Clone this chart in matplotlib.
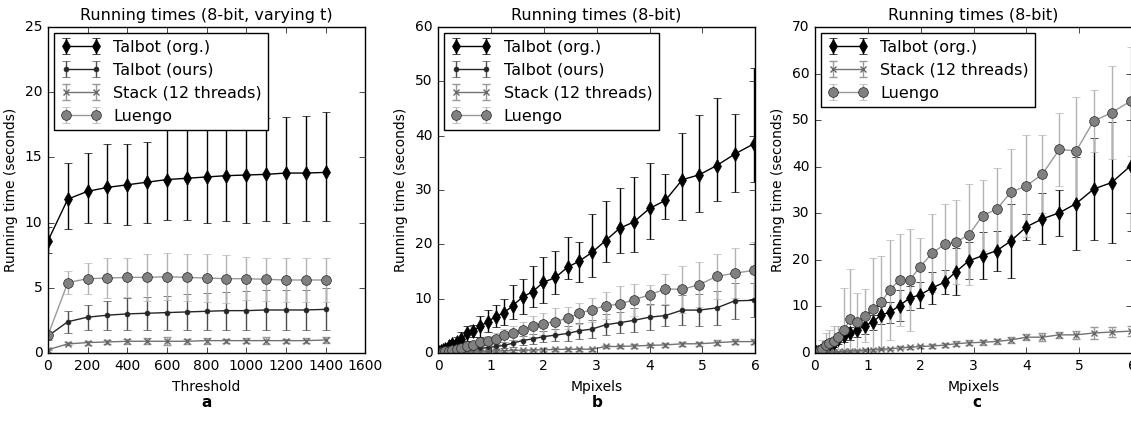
import numpy as np
import matplotlib
matplotlib.use('Agg')
from matplotlib import pyplot as plt

plt.style.use('classic')
plt.rcParams['figure.facecolor'] = 'white'
plt.rcParams['savefig.facecolor'] = 'white'
plt.rcParams['font.family'] = 'DejaVu Sans'
plt.rcParams['font.size'] = 11
plt.rcParams['axes.titlesize'] = 11.5
plt.rcParams['axes.labelsize'] = 10
plt.rcParams['xtick.labelsize'] = 10
plt.rcParams['ytick.labelsize'] = 10
plt.rcParams['legend.fontsize'] = 11.5

# ---- panel a: varying threshold ----
thresh = [0, 100, 200, 300, 400, 500, 600, 700, 800, 900, 1000, 1100, 1200, 1300, 1400]
a_org = [8.6, 11.8, 12.4, 12.7, 12.9, 13.1, 13.3, 13.4, 13.5, 13.6, 13.65, 13.7, 13.8, 13.8, 13.85]
a_org_lo = [7.7, 9.5, 10.0, 10.0, 9.8, 10.0, 10.2, 10.2, 10.0, 10.1, 10.0, 10.1, 10.0, 10.1, 10.1]
a_org_hi = [9.7, 14.6, 15.3, 16.05, 16.0, 16.2, 17.3, 17.5, 17.7, 17.8, 17.9, 18.0, 18.1, 18.2, 18.5]
a_ours = [1.3, 2.4, 2.75, 2.9, 3.0, 3.05, 3.1, 3.15, 3.2, 3.25, 3.25, 3.3, 3.3, 3.3, 3.35]
a_ours_err = [0.3, 0.85, 0.95, 1.1, 1.2, 1.25, 1.3, 1.35, 1.4, 1.45, 1.5, 1.55, 1.5, 1.55, 1.6]
a_stack = [0.25, 0.7, 0.8, 0.85, 0.9, 0.9, 0.9, 0.9, 0.95, 0.95, 0.95, 0.95, 0.95, 0.95, 1.0]
a_stack_err = [0.05, 0.12, 0.15, 0.18, 0.2, 0.22, 0.3, 0.2, 0.22, 0.15, 0.2, 0.25, 0.15, 0.2, 0.2]
a_luengo = [1.35, 5.4, 5.7, 5.75, 5.8, 5.8, 5.85, 5.8, 5.75, 5.7, 5.7, 5.65, 5.6, 5.6, 5.6]
a_luengo_err = [0.3, 0.9, 1.2, 1.5, 1.5, 1.8, 1.8, 1.8, 1.85, 1.85, 1.65, 1.65, 1.7, 1.65, 1.65]

# ---- panels b and c: image size ----
mpix = [0.005, 0.02, 0.05, 0.09, 0.14, 0.20, 0.27, 0.35, 0.44, 0.55, 0.66, 0.80, 0.94, 1.09, 1.25,
        1.41, 1.60, 1.79, 1.99, 2.22, 2.45, 2.67, 2.91, 3.17, 3.44, 3.70, 4.00, 4.30, 4.62, 4.94,
        5.27, 5.61, 5.97]

b_org = [0.05, 0.15, 0.3, 0.5, 0.8, 1.2, 1.6, 2.1, 2.6, 3.6, 4.1, 4.9, 5.8, 6.7, 7.4, 8.7, 10.3,
         11.3, 13.0, 13.9, 15.8, 16.9, 18.5, 20.7, 23.0, 24.1, 26.6, 28.1, 31.9, 32.8, 34.5, 36.6, 38.5]
b_org_lo = [0.0, 0.05, 0.1, 0.2, 0.4, 0.6, 0.9, 1.2, 1.5, 2.3, 2.9, 3.0, 3.9, 4.7, 5.2, 6.2, 7.2,
            8.4, 9.2, 10.9, 13.6, 13.1, 13.9, 16.8, 18.4, 18.5, 21.0, 24.7, 24.4, 25.9, 27.9, 29.7, 31.5]
b_org_hi = [0.1, 0.3, 0.6, 0.9, 1.3, 1.9, 2.4, 3.0, 3.9, 4.9, 5.2, 6.9, 8.0, 8.9, 9.9, 12.6, 13.7,
            16.1, 17.6, 18.7, 21.4, 20.5, 25.6, 28.0, 30.4, 32.4, 35.0, 33.0, 40.5, 43.8, 47.0, 44.0, 52.4]
b_ours = [0.01, 0.02, 0.05, 0.1, 0.15, 0.2, 0.28, 0.35, 0.45, 0.6, 0.7, 0.85, 1.0, 1.2, 1.4, 1.8, 2.3,
          2.6, 3.0, 3.3, 3.6, 4.1, 4.4, 5.2, 5.6, 6.0, 6.6, 6.9, 7.9, 7.9, 8.3, 9.6, 9.7]
b_ours_err = [0.01, 0.02, 0.03, 0.05, 0.07, 0.1, 0.12, 0.15, 0.2, 0.25, 0.3, 0.35, 0.4, 0.5, 0.55, 0.65,
              0.8, 0.9, 1.0, 1.1, 1.3, 1.5, 1.7, 1.9, 2.0, 2.2, 2.4, 2.0, 2.8, 3.0, 3.1, 3.3, 3.1]
b_stack = [0.0, 0.01, 0.02, 0.03, 0.04, 0.06, 0.08, 0.1, 0.13, 0.17, 0.2, 0.25, 0.3, 0.35, 0.4, 0.45,
           0.5, 0.55, 0.6, 0.65, 0.7, 0.7, 0.7, 1.2, 1.2, 1.3, 1.4, 1.5, 1.7, 1.7, 1.9, 2.1, 2.1]
b_stack_err = [0.0, 0.01, 0.01, 0.02, 0.02, 0.03, 0.04, 0.05, 0.06, 0.08, 0.1, 0.1, 0.12, 0.15, 0.15,
               0.2, 0.2, 0.2, 0.25, 0.25, 0.3, 0.3, 0.3, 0.3, 0.3, 0.35, 0.35, 0.4, 0.4, 0.4, 0.5, 0.5, 0.5]
b_luengo = [0.02, 0.05, 0.1, 0.2, 0.3, 0.45, 0.6, 0.8, 1.0, 1.35, 1.5, 2.0, 2.3, 2.6, 3.3, 3.7, 4.2,
            4.9, 5.4, 5.8, 6.4, 7.3, 8.0, 8.7, 9.0, 9.8, 10.7, 11.8, 11.7, 12.6, 14.1, 14.7, 15.2]
b_luengo_err = [0.01, 0.02, 0.05, 0.08, 0.1, 0.15, 0.2, 0.3, 0.4, 0.5, 0.6, 0.7, 0.8, 1.0, 1.2, 1.3,
                1.6, 1.9, 2.0, 2.4, 2.0, 1.9, 2.2, 2.5, 3.4, 2.9, 1.9, 2.8, 4.4, 4.1, 4.2, 4.6, 5.2]

c_org = [0.05, 0.15, 0.25, 0.4, 0.7, 1.1, 1.6, 2.1, 3.0, 3.6, 4.2, 4.9, 5.9, 6.6, 8.2, 8.7, 10.2,
         11.8, 12.5, 14.0, 15.2, 17.5, 19.8, 20.9, 22.0, 24.0, 27.1, 28.8, 30.1, 32.1, 35.2, 36.6, 40.2]
c_org_err = [0.05, 0.1, 0.15, 0.2, 0.3, 0.5, 0.7, 0.9, 1.0, 1.2, 1.4, 1.5, 1.8, 1.6, 2.0, 2.2, 3.3,
             2.5, 2.8, 3.5, 2.6, 5.0, 4.0, 5.0, 4.3, 8.0, 2.8, 5.5, 5.0, 10.0, 11.0, 13.0, 14.0]
c_stack = [0.01, 0.02, 0.04, 0.07, 0.1, 0.15, 0.2, 0.25, 0.3, 0.35, 0.4, 0.5, 0.6, 0.7, 0.8, 0.9, 1.1,
           1.2, 1.4, 1.5, 1.7, 2.0, 2.2, 2.3, 2.5, 2.8, 3.4, 3.4, 3.9, 3.9, 4.3, 4.5, 4.7]
c_stack_err = [0.01, 0.01, 0.02, 0.03, 0.05, 0.06, 0.08, 0.1, 0.1, 0.12, 0.15, 0.15, 0.2, 0.2, 0.2,
               0.25, 0.3, 0.3, 0.3, 0.35, 0.4, 0.5, 0.5, 0.6, 0.5, 0.6, 0.6, 0.8, 0.6, 0.9, 1.2, 1.0, 1.0]
c_luengo = [0.1, 0.25, 0.4, 0.6, 0.9, 1.8, 2.1, 2.6, 3.4, 4.9, 7.2, 6.6, 8.0, 9.5, 10.9, 13.5, 15.7,
            15.7, 18.5, 21.5, 23.3, 23.8, 25.4, 29.5, 30.9, 34.5, 35.9, 38.4, 43.7, 43.4, 49.8, 51.6, 54.1]
c_luengo_err = [0.3, 0.5, 0.8, 1.2, 2.0, 2.5, 2.9, 3.1, 2.5, 9.1, 10.8, 6.3, 5.7, 10.9, 10.0, 10.7,
                9.9, 10.9, 6.2, 8.3, 8.6, 9.0, 10.9, 7.7, 8.8, 9.3, 10.9, 8.4, 7.8, 11.6, 6.7, 10.0, 11.7]

# styles per method
ORG = dict(color='k', marker='d', ms=7, mec='k', mfc='k', ecolor='k', label='Talbot (org.)')
OURS = dict(color='0.15', marker='.', ms=7, mec='0.15', mfc='0.15', ecolor='0.3', label='Talbot (ours)')
STACK = dict(color='0.45', marker='x', ms=5, mew=1, mec='0.4', ecolor='0.6', label='Stack (12 threads)')
LUENGO = dict(color='0.6', marker='o', ms=7, mec='0.15', mfc='0.5', ecolor='0.7', label='Luengo')


def asym(y, lo, hi):
    y = np.array(y); return [y - np.array(lo), np.array(hi) - y]


fig = plt.figure(figsize=(11.31, 4.41), dpi=100)
w, h, bot = 0.2805, 0.7393, 0.1995
ax1 = fig.add_axes([0.0424, bot, w, h])
ax2 = fig.add_axes([0.3873, bot, w, h])
ax3 = fig.add_axes([0.7206, bot, w, h])

ax1.errorbar(thresh, a_org, yerr=asym(a_org, a_org_lo, a_org_hi), capsize=3, **ORG)
ax1.errorbar(thresh, a_ours, yerr=a_ours_err, capsize=3, **OURS)
ax1.errorbar(thresh, a_stack, yerr=a_stack_err, capsize=3, **STACK)
ax1.errorbar(thresh, a_luengo, yerr=a_luengo_err, capsize=3, **LUENGO)
ax1.set_xlim(0, 1600)
ax1.set_ylim(0, 25)
ax1.set_xticks(range(0, 1601, 200))
ax1.set_xlabel('Threshold')
ax1.set_title('Running times (8-bit, varying t)')

ax2.errorbar(mpix, b_org, yerr=asym(b_org, b_org_lo, b_org_hi), capsize=3, **ORG)
ax2.errorbar(mpix, b_ours, yerr=b_ours_err, capsize=3, **OURS)
ax2.errorbar(mpix, b_stack, yerr=b_stack_err, capsize=3, **STACK)
ax2.errorbar(mpix, b_luengo, yerr=b_luengo_err, capsize=3, **LUENGO)
ax2.set_xlim(0, 6)
ax2.set_ylim(0, 60)
ax2.set_xlabel('Mpixels')
ax2.set_title('Running times (8-bit)')

ax3.errorbar(mpix, c_org, yerr=c_org_err, capsize=3, **ORG)
ax3.errorbar(mpix, c_stack, yerr=c_stack_err, capsize=3, **STACK)
ax3.errorbar(mpix, c_luengo, yerr=c_luengo_err, capsize=3, **LUENGO)
ax3.set_xlim(0, 6)
ax3.set_ylim(0, 70)
ax3.set_xlabel('Mpixels')
ax3.set_title('Running times (8-bit)')

for ax, lab, xc in [(ax1, 'a', 0.183), (ax2, 'b', 0.528), (ax3, 'c', 0.864)]:
    ax.set_ylabel('Running time (seconds)')
    ax.legend(loc='upper left', numpoints=2, borderaxespad=0.4, handlelength=2.5)
    fig.text(xc, 0.088, lab, ha='center', va='center', fontsize=11, fontweight='bold')

fig.savefig('out.png', dpi=100)
